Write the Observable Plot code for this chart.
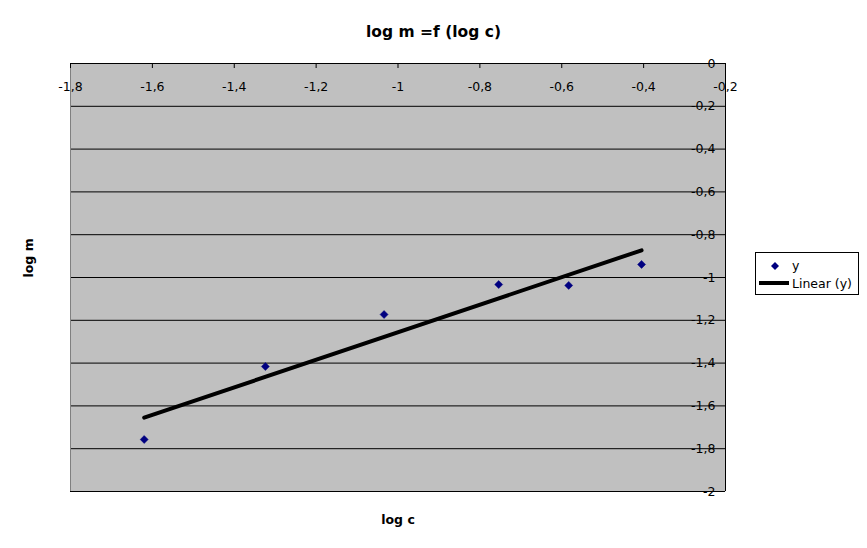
<!DOCTYPE html>
<html><head><meta charset="utf-8">
<script src="https://cdn.jsdelivr.net/npm/d3@7"></script>
<script src="https://cdn.jsdelivr.net/npm/@observablehq/plot@0.6"></script>
<style>
body{margin:0;background:#fff;font-family:"DejaVu Sans",sans-serif;}
#wrap{position:relative;width:867px;height:548px;}
#title{position:absolute;left:0;top:23px;width:867px;text-align:center;font-weight:bold;font-size:15.5px;line-height:18px;}
#legend{position:absolute;left:755px;top:252px;font-family:"DejaVu Sans",sans-serif;}
</style></head><body>
<div id="wrap">
<div id="chart"></div>
<div id="title">log m =f (log c)</div>
<svg id="legend" width="104" height="44">
<rect x="0.5" y="0.5" width="103" height="42" fill="white" stroke="black"/>
<path d="M20,10 L24,14 L20,18 L16,14Z" fill="#000080"/>
<text x="37" y="18" font-size="12.5">y</text>
<line x1="4" x2="34" y1="31" y2="31" stroke="black" stroke-width="4"/>
<text x="37" y="35.5" font-size="12.5">Linear (y)</text>
</svg>
</div>
<script>
const logC = [-1.62, -1.324, -1.034, -0.754, -0.583, -0.405];
const logM = [-1.757, -1.416, -1.173, -1.033, -1.037, -0.939];
const xTicks = [-1.8, -1.6, -1.4, -1.2, -1, -0.8, -0.6, -0.4, -0.2];
const yTicks = [0, -0.2, -0.4, -0.6, -0.8, -1, -1.2, -1.4, -1.6, -1.8, -2];
const data = logC.map((x, i) => ({x, y: logM[i]}));
const fmt = d => String(d).replace(".", ",");

const chart = Plot.plot({
  width: 867, height: 548,
  marginLeft: 70, marginRight: 142, marginTop: 63, marginBottom: 57,
  x: {domain: [-1.8, -0.2], axis: null},
  y: {domain: [-2, 0], axis: null},
  style: {fontFamily: "DejaVu Sans", fontSize: "12.5px", background: "white", overflow: "visible", color: "black"},
  marks: [
    Plot.frame({fill: "#c0c0c0"}),
    Plot.text(yTicks, {y: d => d, frameAnchor: "right", text: fmt, textAnchor: "end", dx: -10, fill: "black"}),
    Plot.gridY(yTicks, {stroke: "black", strokeOpacity: 1}),
    Plot.ruleX([-1.8], {stroke: "#808080"}),
    Plot.ruleX([-0.2], {stroke: "black"}),
    Plot.ruleY([0, -2], {stroke: "black"}),
    Plot.tickX(xTicks, {x: d => d, stroke: "black", insetBottom: 423}),
    Plot.text(xTicks, {x: d => d, frameAnchor: "top", text: fmt, dy: 19, fill: "black"}),
    Plot.linearRegressionY(data, {x: "x", y: "y", stroke: "black", strokeWidth: 4, ci: 0}),
    Plot.dot(data, {x: "x", y: "y", symbol: "diamond2", r: 3.6, fill: "#000080", stroke: "#000080", strokeWidth: 0.5}),
    Plot.text(["log c"], {frameAnchor: "bottom", dy: 32, fontWeight: "bold", fill: "black"}),
    Plot.text(["log m"], {frameAnchor: "left", dx: -42, rotate: -90, fontWeight: "bold", fill: "black"})
  ]
});
document.getElementById("chart").appendChild(chart);
</script>
</body></html>
